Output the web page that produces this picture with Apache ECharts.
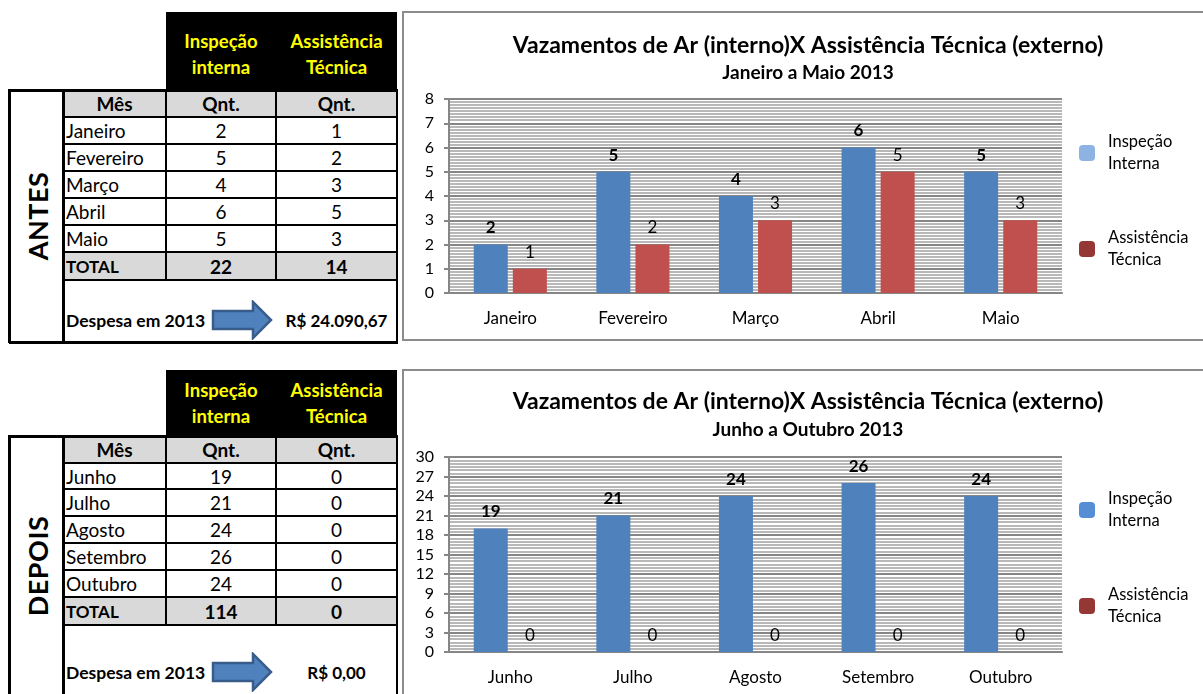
<!DOCTYPE html>
<html><head><meta charset="utf-8">
<script src="https://cdn.jsdelivr.net/npm/echarts@6/dist/echarts.min.js"></script>
<style>
html,body{margin:0;padding:0;background:#fff;width:1203px;height:694px;overflow:hidden;font-family:Lato,"Noto Sans",sans-serif;}
.abs{position:absolute;box-sizing:border-box;}
.cell{position:absolute;box-sizing:border-box;display:flex;align-items:center;color:#000;font-size:19px;white-space:nowrap;}
.hline{position:absolute;background:#000;}
.frame{position:absolute;box-sizing:border-box;border:2px solid #8c8c8c;}
</style></head>
<body>
<div id="root"></div>
<div class="frame" style="left:402px;top:11px;width:820px;height:330px;"></div>
<div class="frame" style="left:402px;top:369px;width:820px;height:340px;"></div>
<div id="c1" class="abs" style="left:403px;top:12px;width:800px;height:328px;"></div>
<div id="c2" class="abs" style="left:403px;top:370px;width:800px;height:324px;"></div>
<script>
// ---- data ----
const mesesAntes = ['Janeiro', 'Fevereiro', 'Março', 'Abril', 'Maio'];
const inspecaoAntes = [2, 5, 4, 6, 5];
const assistenciaAntes = [1, 2, 3, 5, 3];
const mesesDepois = ['Junho', 'Julho', 'Agosto', 'Setembro', 'Outubro'];
const inspecaoDepois = [19, 21, 24, 26, 24];
const assistenciaDepois = [0, 0, 0, 0, 0];
const despesaAntes = 'R$ 24.090,67';
const despesaDepois = 'R$ 0,00';
const tituloPrincipal = 'Vazamentos de Ar (interno)X Assistência Técnica (externo)';
const subtituloAntes = 'Janeiro a Maio 2013';
const subtituloDepois = 'Junho a Outubro 2013';
const nomeInspecao = 'Inspeção\nInterna';
const nomeAssistencia = 'Assistência\nTécnica';

// ---- tables (HTML) ----
const root = document.getElementById('root');
function el(cls, style, html) {
  const d = document.createElement('div');
  d.className = cls; d.style.cssText = style; if (html !== undefined) d.innerHTML = html;
  root.appendChild(d); return d;
}
function buildTable(o) {
  // black header
  const hy = o.tableTop - o.blackTop;
  el('abs', `left:166px;top:${o.blackTop}px;width:231px;height:${hy}px;background:#000;`);
  const hs = `color:#ffff00;font-weight:bold;font-size:18.5px;line-height:26px;white-space:normal;justify-content:center;text-align:center;padding-top:${o.headPad}px;`;
  el('cell', `left:166px;top:${o.blackTop}px;width:110px;height:${hy}px;${hs}`, 'Inspeção<br>interna');
  el('cell', `left:276px;top:${o.blackTop}px;width:121px;height:${hy}px;${hs}`, 'Assistência<br>Técnica');
  const r = o.rows; // row boundaries
  // grey fills
  el('abs', `left:63px;top:${r[0]}px;width:334px;height:${r[1]-r[0]}px;background:#d9d9d9;`);
  el('abs', `left:63px;top:${r[6]}px;width:334px;height:${r[7]-r[6]}px;background:#d9d9d9;`);
  // header row texts
  el('cell', `left:63px;top:${r[0]}px;width:103px;height:${r[1]-r[0]}px;justify-content:center;font-weight:bold;`, 'Mês');
  el('cell', `left:166px;top:${r[0]}px;width:110px;height:${r[1]-r[0]}px;justify-content:center;font-weight:bold;`, 'Qnt.');
  el('cell', `left:276px;top:${r[0]}px;width:121px;height:${r[1]-r[0]}px;justify-content:center;font-weight:bold;`, 'Qnt.');
  for (let i = 0; i < 5; i++) {
    const t = r[i+1], h = r[i+2] - r[i+1];
    el('cell', `left:66px;top:${t}px;width:100px;height:${h}px;`, o.meses[i]);
    el('cell', `left:166px;top:${t}px;width:110px;height:${h}px;justify-content:center;`, String(o.a[i]));
    el('cell', `left:276px;top:${t}px;width:121px;height:${h}px;justify-content:center;`, String(o.b[i]));
  }
  const ta = o.a.reduce((s, v) => s + v, 0), tb = o.b.reduce((s, v) => s + v, 0);
  el('cell', `left:66px;top:${r[6]}px;width:100px;height:${r[7]-r[6]}px;font-weight:bold;font-size:17px;`, 'TOTAL');
  el('cell', `left:166px;top:${r[6]}px;width:110px;height:${r[7]-r[6]}px;justify-content:center;font-weight:bold;font-size:19px;`, String(ta));
  el('cell', `left:276px;top:${r[6]}px;width:121px;height:${r[7]-r[6]}px;justify-content:center;font-weight:bold;font-size:19px;`, String(tb));
  // despesa
  el('cell', `left:66px;top:${o.despY - 14}px;width:150px;height:28px;font-weight:bold;font-size:17.5px;`, 'Despesa em 2013');
  el('cell', `left:276px;top:${o.despY - 14}px;width:121px;height:28px;justify-content:center;font-weight:bold;font-size:17px;`, o.despesa);
  const svg = `<svg width="64" height="40" viewBox="0 0 64 40"><path d="M2 11 L42 11 L42 2 L60 20 L42 38 L42 29 L2 29 Z" fill="#4f81bd" stroke="#385d8a" stroke-width="2.5"/></svg>`;
  el('abs', `left:211px;top:${o.despY - 20}px;width:64px;height:40px;`, svg);
  // lines
  const bottom = o.bottom;
  for (let i = 1; i < 8; i++) el('hline', `left:63px;top:${r[i]-1}px;width:334px;height:2px;`);
  el('hline', `left:9px;top:${r[0]-1}px;width:389px;height:3px;`);
  if (o.closeBottom) el('hline', `left:9px;top:${bottom-2}px;width:389px;height:3px;`);
  el('hline', `left:8px;top:${r[0]-1}px;width:3px;height:${bottom - r[0] + 1}px;`);
  el('hline', `left:62px;top:${r[0]-1}px;width:3px;height:${bottom - r[0] + 1}px;`);
  el('hline', `left:165px;top:${r[0]-1}px;width:2px;height:${r[7]-r[0]+1}px;`);
  el('hline', `left:275px;top:${r[0]-1}px;width:2px;height:${r[7]-r[0]+1}px;`);
  el('hline', `left:396px;top:${r[0]-1}px;width:2px;height:${bottom - r[0] + 1}px;`);
  // vertical label
  el('abs', `left:${37 - 60}px;top:${o.labelY - 18}px;width:120px;height:36px;display:flex;align-items:center;justify-content:center;font-weight:bold;font-size:27px;transform:rotate(-90deg);letter-spacing:0.5px;`, o.label);
}
buildTable({blackTop: 12, tableTop: 90, headPad: 6, rows: [90, 117, 144, 171, 198, 225, 252, 280], bottom: 343, closeBottom: true,
  meses: mesesAntes, a: inspecaoAntes, b: assistenciaAntes, despesa: despesaAntes, despY: 320, label: 'ANTES', labelY: 216});
buildTable({blackTop: 370, tableTop: 436, headPad: 0, rows: [436, 463, 489, 516, 543, 570, 597, 625], bottom: 700, closeBottom: false,
  meses: mesesDepois, a: inspecaoDepois, b: assistenciaDepois, despesa: despesaDepois, despY: 672, label: 'DEPOIS', labelY: 566});

// ---- charts ----
const FONT = 'Lato';
function makeOption(o) {
  return {
    animation: false,
    textStyle: {fontFamily: FONT},
    title: {
      text: tituloPrincipal, subtext: o.sub, left: 400, top: o.titleTop, textAlign: 'center', itemGap: o.titleGap,
      textStyle: {fontFamily: FONT, fontWeight: 'bold', fontSize: 23, color: '#000'},
      subtextStyle: {fontFamily: FONT, fontWeight: 'bold', fontSize: 19, color: '#000'}
    },
    legend: {
      orient: 'vertical', left: 671, top: o.legendTop, itemWidth: 16, itemHeight: 16, icon: 'roundRect', itemGap: 52,
      textStyle: {fontFamily: FONT, fontSize: 16.5, lineHeight: 22, color: '#000', padding: [0, 0, 0, 8]},
      data: [
        {name: nomeInspecao, itemStyle: {color: o.legBlue}},
        {name: nomeAssistencia, itemStyle: {color: '#953735'}}
      ]
    },
    grid: {left: 46, top: 87, width: 613, height: o.gridH},
    xAxis: {
      type: 'category', data: o.cats,
      axisLine: {lineStyle: {color: '#868686', width: 2}},
      axisTick: {length: 6, lineStyle: {color: '#868686', width: 2}},
      axisLabel: {fontFamily: FONT, fontSize: 17, color: '#000', margin: 17}
    },
    yAxis: {
      type: 'value', min: 0, max: o.max, interval: o.interval,
      axisLine: {show: true, lineStyle: {color: '#868686', width: 2}},
      axisTick: {show: true, length: 5, lineStyle: {color: '#868686', width: 2}},
      axisLabel: {fontFamily: FONT, fontSize: 16, color: '#000', margin: 15},
      splitLine: {lineStyle: {color: '#868686', width: 2}},
      minorTick: {show: false, splitNumber: o.minor},
      minorSplitLine: {show: true, lineStyle: {color: '#b8b8b8', width: 2}}
    },
    series: [
      {type: 'bar', name: nomeInspecao, data: o.a, barWidth: 34, barGap: '15%', itemStyle: {color: '#4f81bd'},
        label: {show: true, position: 'top', distance: 8, fontFamily: FONT, fontWeight: 'bold', fontSize: 17, color: '#000'}},
      {type: 'bar', name: nomeAssistencia, data: o.b, barWidth: 34, barGap: '15%', itemStyle: {color: '#c0504d'},
        label: {show: true, position: 'top', distance: 8, fontFamily: FONT, fontSize: 17, color: '#000'}}
    ]
  };
}
echarts.init(document.getElementById('c1')).setOption(makeOption({
  sub: subtituloAntes, titleTop: 17, titleGap: 6, legendTop: 114, legBlue: '#8db3e2', gridH: 194,
  cats: mesesAntes, max: 8, interval: 1, minor: 8, a: inspecaoAntes, b: assistenciaAntes
}));
echarts.init(document.getElementById('c2')).setOption(makeOption({
  sub: subtituloDepois, titleTop: 15, titleGap: 7, legendTop: 113, legBlue: '#558ed5', gridH: 195,
  cats: mesesDepois, max: 30, interval: 3, minor: 6, a: inspecaoDepois, b: assistenciaDepois
}));
</script>
</body></html>
